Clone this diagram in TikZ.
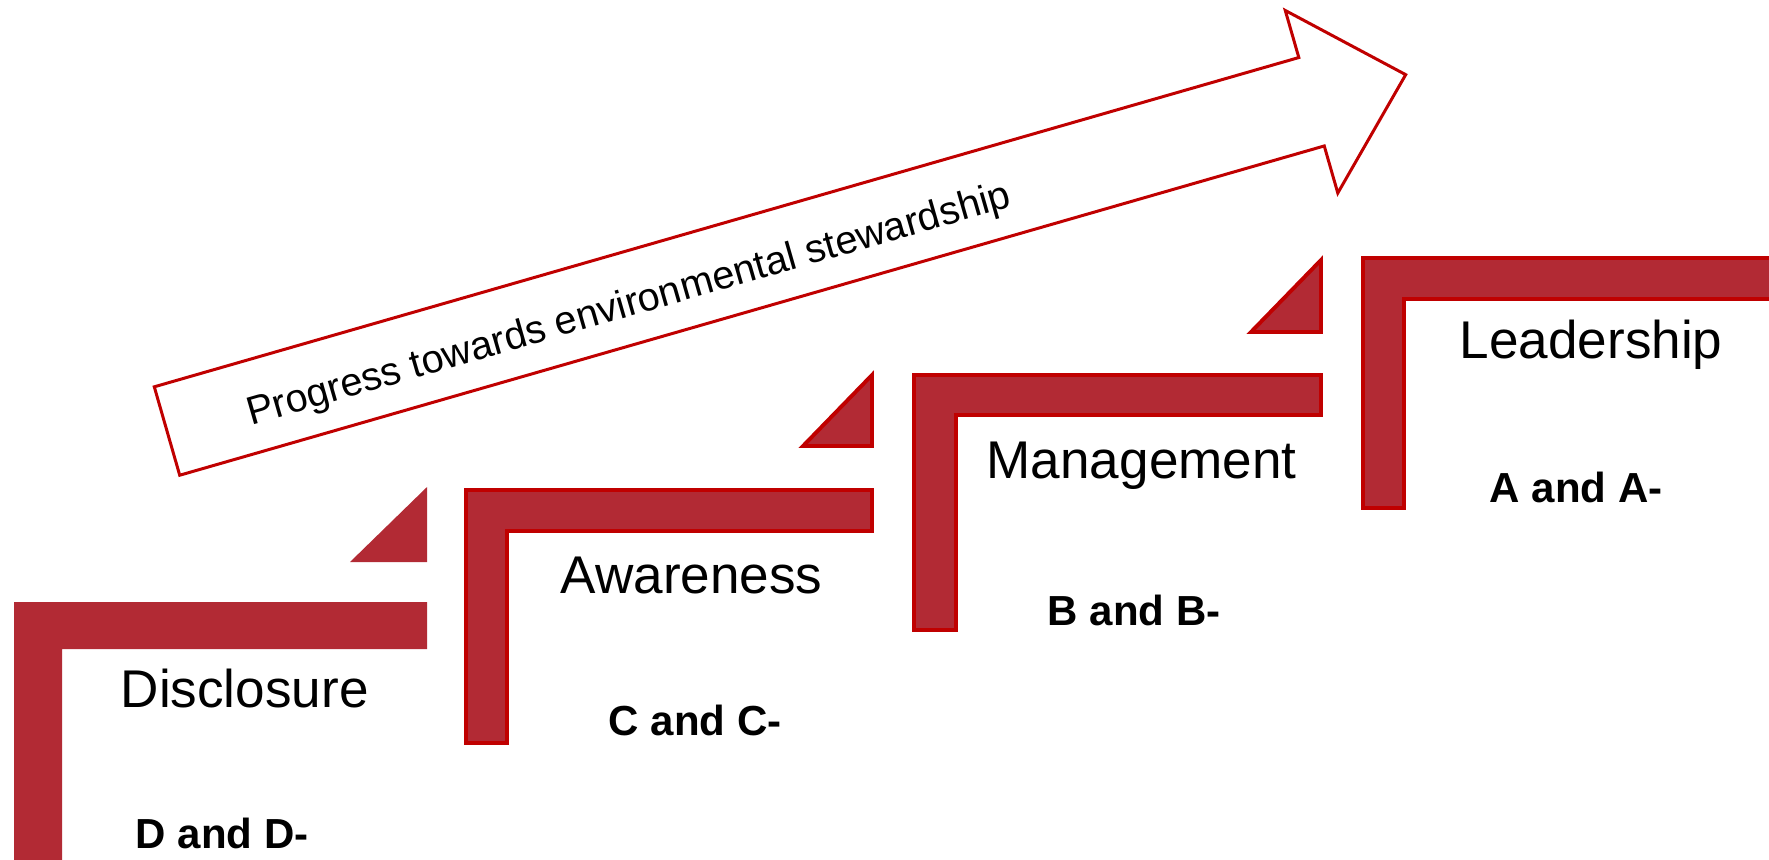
\documentclass[tikz,border=0pt]{standalone}
\usepackage{fontspec}
\setmainfont{Liberation Sans}
\usepackage{xcolor}
\usepackage{tikz}
\definecolor{stepfill}{RGB}{178,42,52}
\definecolor{stepline}{RGB}{192,0,0}

\begin{document}
\begin{tikzpicture}[
		x=0.01cm, y=-0.01cm,
		stepbar/.style={fill=stepfill, draw=stepline, line width=1.1pt},
		flatbar/.style={fill=stepfill},
		progress/.style={draw=stepline, fill=white, line width=0.85pt},
		level/.style={anchor=base west, inner sep=0pt, font=\fontsize{15.1}{18}\selectfont},
		grade/.style={anchor=base west, inner sep=0pt, font=\fontsize{11.95}{14}\selectfont\bfseries}]
	
	\useasboundingbox (0,0) rectangle (1769,859);
	\clip (0,0) rectangle (1769,859);
	
	% the four steps, lowest first
	\fill[flatbar] (14,602) -- (427,602) -- (427,649) -- (62,649) -- (62,880) -- (14,880) -- cycle;
	\fill[flatbar] (427,487) -- (427,562) -- (350,562) -- cycle;
	
	\draw[stepbar] (466,490) -- (872,490) -- (872,531) -- (507,531) -- (507,743) -- (466,743) -- cycle;
	\draw[stepbar] (872,375) -- (872,446) -- (803,446) -- cycle;
	
	\draw[stepbar] (914,375) -- (1321,375) -- (1321,415) -- (956,415) -- (956,630) -- (914,630) -- cycle;
	\draw[stepbar] (1321,260) -- (1321,332) -- (1251,332) -- cycle;
	
	\draw[stepbar] (1363,258) -- (1790,258) -- (1790,299) -- (1404,299) -- (1404,508) -- (1363,508) -- cycle;
	
	% big arrow
	\begin{scope}[shift={(167,431)}, rotate=16.05]
		\draw[progress] (0,-46) -- (1191,-46) -- (1191,-95) -- (1289,0) -- (1191,95) -- (1191,46) -- (0,46) -- cycle;
		\node[rotate=16.05, anchor=base, inner sep=0pt, font=\fontsize{11.3}{13}\selectfont] (progress_text) at (479,18) {Progress towards environmental stewardship};
	\end{scope}
	
	\node[level] (disclosure) at (120,707) {Disclosure};
	\node[grade] (grade_d) at (135,848) {D and D-};
	\node[level] (awareness) at (560,593) {Awareness};
	\node[grade] (grade_c) at (608,735) {C and C-};
	\node[level] (management) at (986,478) {Management};
	\node[grade] (grade_b) at (1047,625) {B and B-};
	\node[level] (leadership) at (1459,358) {Leadership};
	\node[grade] (grade_a) at (1489,502) {A and A-};
	
\end{tikzpicture}
\end{document}
